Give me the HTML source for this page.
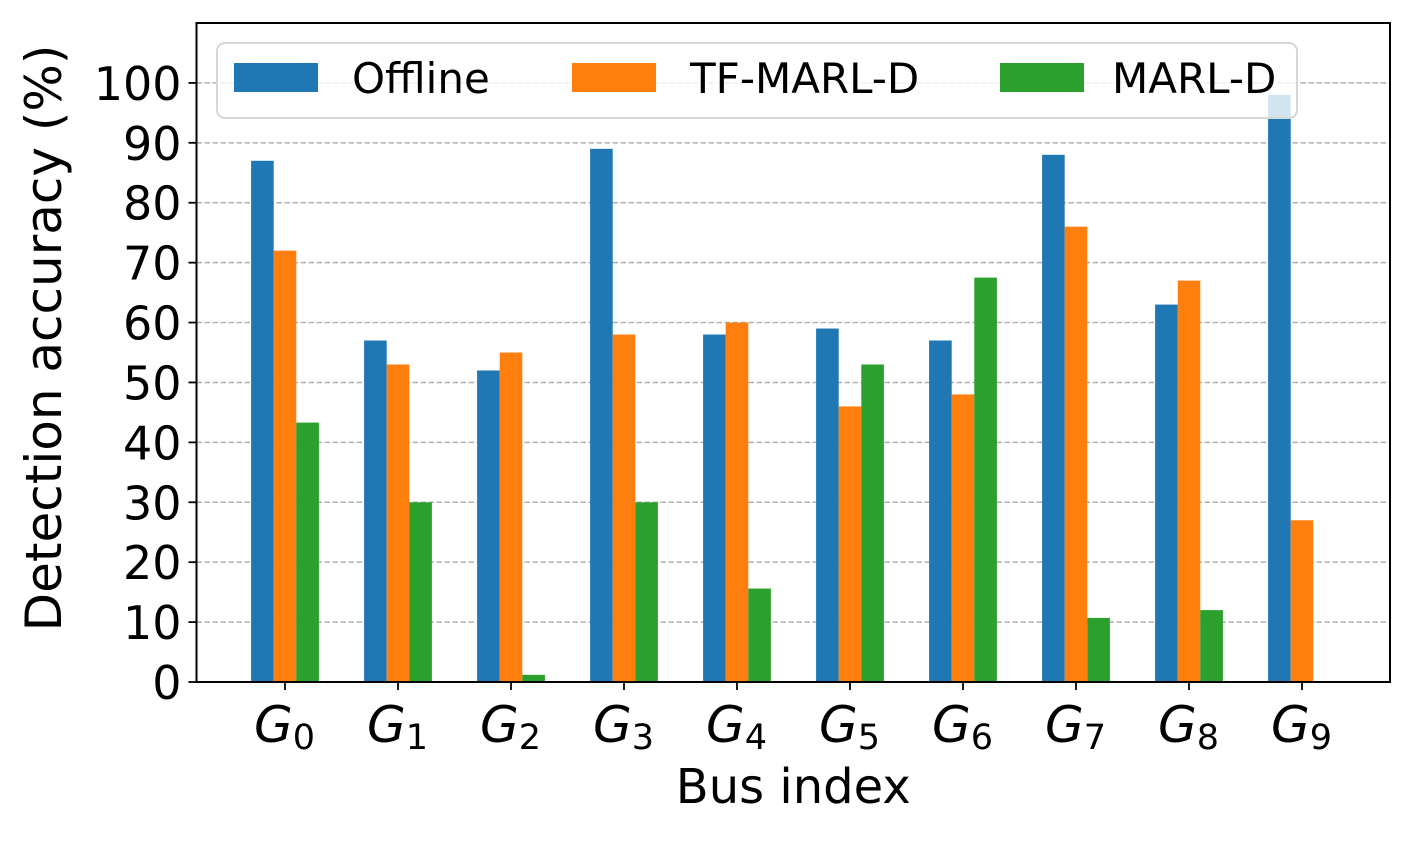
<!DOCTYPE html>
<html><head><meta charset="utf-8"><style>
body{margin:0;background:#fff;}
svg text{font-family:"DejaVu Sans","Liberation Sans",sans-serif;}
</style></head><body>
<svg id="chart" width="1413" height="836" xmlns="http://www.w3.org/2000/svg">
<g id="grid"></g><g id="bars"></g><g id="axes"></g><g id="legend"></g>
</svg>
<script>
const categories=["0","1","2","3","4","5","6","7","8","9"];
const offline=[87,57,52,89,58,59,57,88,63,98];
const tfmarld=[72,53,55,58,60,46,48,76,67,27];
const marld=[43.3,30,1.2,30,15.6,53,67.5,10.7,12,0];
const yTicks=[0,10,20,30,40,50,60,70,80,90,100];
const seriesNames=["Offline","TF-MARL-D","MARL-D"];
const colors=["#1f77b4","#ff7f0e","#2ca02c"];
const L=196.5,R=1390,T=23,B=682,ymax=110;
const x0=285,dx=113,bw=22.6;
const y=v=>B-(v/ymax)*(B-T);
const xc=i=>x0+i*dx;
const NS="http://www.w3.org/2000/svg";
function mk(tag,attrs,parent,text){const e=document.createElementNS(NS,tag);for(const k in attrs)e.setAttribute(k,attrs[k]);if(text!=null)e.textContent=text;document.getElementById(parent).appendChild(e);return e;}
yTicks.forEach(t=>{
 const g=mk('line',{x1:L,x2:R,y1:y(t),y2:y(t),stroke:'#b0b0b0','stroke-width':1.5,'stroke-dasharray':'5.5,2.5'},'grid');
 
 
 const tk=mk('line',{x1:L-8,x2:L,y1:y(t),y2:y(t),stroke:'#000','stroke-width':1.8},'axes');
 
 
 const lb=mk('text',{x:L-15,y:y(t)+17,'text-anchor':'end','font-size':46},'axes',t);
 
 
});
const series=[offline,tfmarld,marld];
series.forEach((s,k)=>{
 s.forEach((v,i)=>{
  const cx=xc(i)+(k-1)*bw;
  const r=mk('rect',{x:cx-bw/2,y:y(v),width:bw,height:B-y(v),fill:colors[k]},'bars');
  
  
 });
});
categories.forEach((c,i)=>{
 const tk=mk('line',{x1:xc(i),x2:xc(i),y1:B,y2:B+8,stroke:'#000','stroke-width':1.8},'axes');
 
 
 const lb=mk('text',{x:xc(i)-31,y:742,'font-size':50,'font-style':'italic'},'axes','G');
 
 
 const sub=document.createElementNS(NS,'tspan');sub.setAttribute('font-size',35);sub.setAttribute('font-style','normal');sub.setAttribute('dy',7);sub.textContent=c;lb.appendChild(sub);
});
const fr=mk('rect',{x:L,y:T,width:R-L,height:B-T,fill:'none',stroke:'#000','stroke-width':2},'axes');


const xl=mk('text',{x:(L+R)/2,y:803,'text-anchor':'middle','font-size':48},'axes','Bus index');


const yl=mk('text',{x:0,y:0,'text-anchor':'middle','font-size':50,transform:'translate(61,338) rotate(-90)'},'axes','Detection accuracy (%)');


const lg=mk('rect',{x:217,y:43,width:1080,height:75,rx:8,fill:'#fff','fill-opacity':0.8,stroke:'#d6d6d6','stroke-width':2},'legend');


const sw=[234,572,1000],tx=[352,690,1112];
seriesNames.forEach((n,k)=>{
 const s=mk('rect',{x:sw[k],y:63,width:84,height:29,fill:colors[k]},'legend');
 
 
 const t=mk('text',{x:tx[k],y:93,'font-size':42},'legend',n);
 
 
});
</script>
</body></html>
